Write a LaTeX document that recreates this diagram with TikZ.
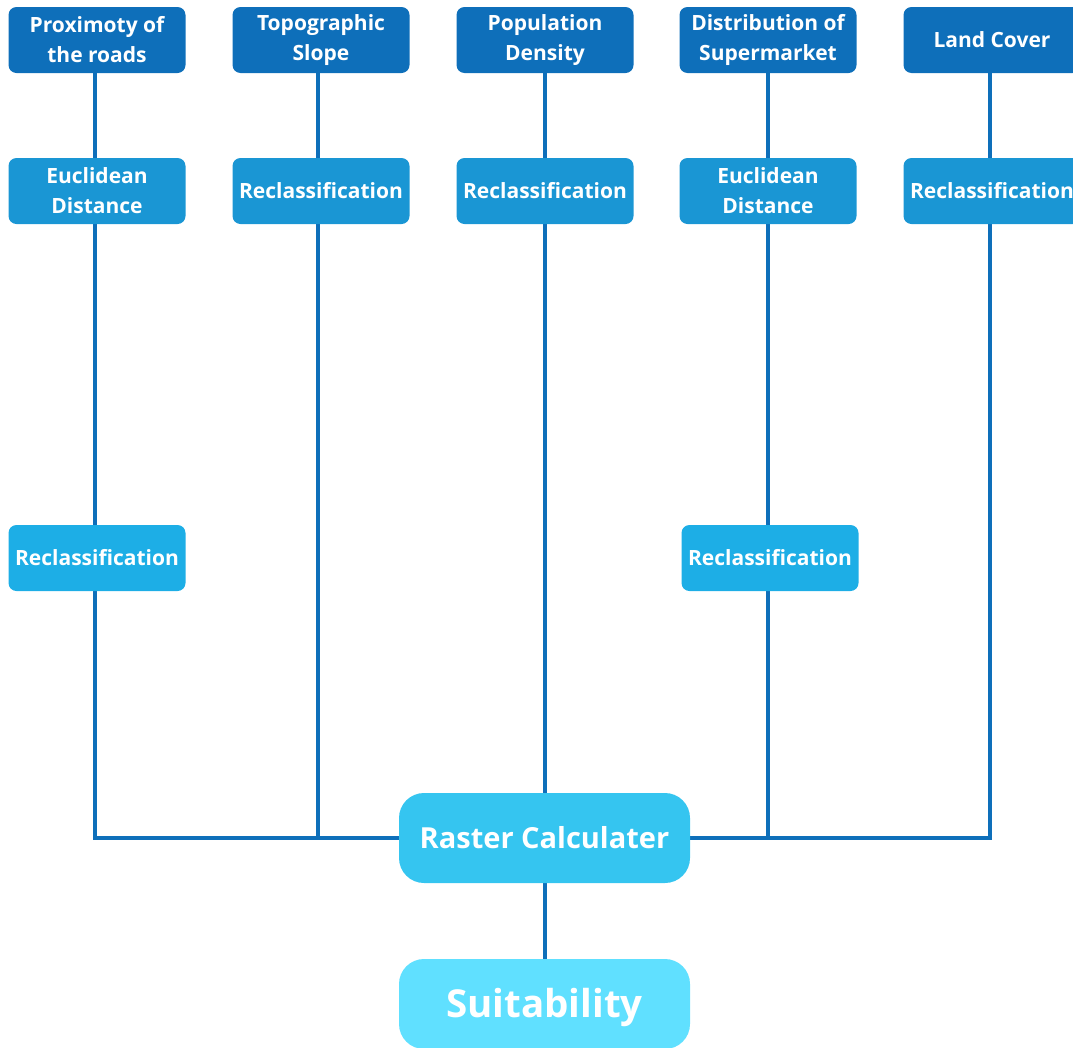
\documentclass[tikz,border=0pt]{standalone}
\usepackage{fontspec}
\setmainfont{Open Sans}
\usetikzlibrary{backgrounds}
\definecolor{cA}{HTML}{0E6FBA}
\definecolor{cB}{HTML}{1A96D4}
\definecolor{cC}{HTML}{1DAEE6}
\definecolor{cD}{HTML}{35C5F0}
\definecolor{cE}{HTML}{60E0FF}
\definecolor{lineC}{HTML}{0E6FBA}
\tikzset{
  box/.style={rounded corners=8pt, minimum width=177pt, minimum height=66pt, text=white, font=\bfseries\fontsize{21}{30}\selectfont, align=center, inner sep=0pt},
  topbox/.style={box, fill=cA},
  midbox/.style={box, fill=cB},
  lowbox/.style={box, fill=cC},
  bigbox/.style={rounded corners=25pt, minimum width=291pt, minimum height=90pt, text=white, align=center, inner sep=0pt},
  conn/.style={draw=lineC, line width=4pt},
}
\begin{document}
\begin{tikzpicture}[x=1pt,y=-1pt]
\useasboundingbox (0,0) rectangle (1073,1047);
\node[topbox] (t1) at (97,40) {Proximoty of\\the roads};
\node[topbox] (t2) at (321,40) {Topographic\\Slope};
\node[topbox] (t3) at (545,40) {Population\\Density};
\node[topbox] (t4) at (768,40) {Distribution of\\Supermarket};
\node[topbox] (t5) at (992,40) {Land Cover};
\node[midbox] (m1) at (97,191) {Euclidean\\Distance};
\node[midbox] (m2) at (321,191) {Reclassification};
\node[midbox] (m3) at (545,191) {Reclassification};
\node[midbox] (m4) at (768,191) {Euclidean\\Distance};
\node[midbox] (m5) at (992,191) {Reclassification};
\node[lowbox] (l1) at (97,558) {Reclassification};
\node[lowbox] (l4) at (770,558) {Reclassification};
\node[bigbox, fill=cD, font=\bfseries\fontsize{29}{30}\selectfont] (rc) at (544.5,838) {Raster Calculater};
\node[bigbox, fill=cE, font=\bfseries\fontsize{38.5}{40}\selectfont, text height=27pt, text depth=0pt] (su) at (544.5,1004) {Suitability};
\coordinate (h1) at (95,838);
\coordinate (h2) at (318,838);
\coordinate (h3) at (545,838);
\coordinate (h4) at (768,838);
\coordinate (h5) at (990,838);
\begin{scope}[on background layer]
\draw[conn] (t1.south -| h1) -- (m1.north -| h1);
\draw[conn] (m1.south -| h1) -- (l1.north -| h1);
\draw[conn] (l1.south -| h1) -- (h1) -- (rc.west);
\draw[conn] (t2.south -| h2) -- (m2.north -| h2);
\draw[conn] (m2.south -| h2) -- (h2);
\draw[conn] (t3.south -| h3) -- (m3.north -| h3);
\draw[conn] (m3.south -| h3) -- (rc.north -| h3);
\draw[conn] (rc.south -| h3) -- (su.north -| h3);
\draw[conn] (t4.south -| h4) -- (m4.north -| h4);
\draw[conn] (m4.south -| h4) -- (l4.north -| h4);
\draw[conn] (l4.south -| h4) -- (h4);
\draw[conn] (t5.south -| h5) -- (m5.north -| h5);
\draw[conn] (m5.south -| h5) -- (h5) -- (rc.east);
\end{scope}
\end{tikzpicture}
\end{document}
